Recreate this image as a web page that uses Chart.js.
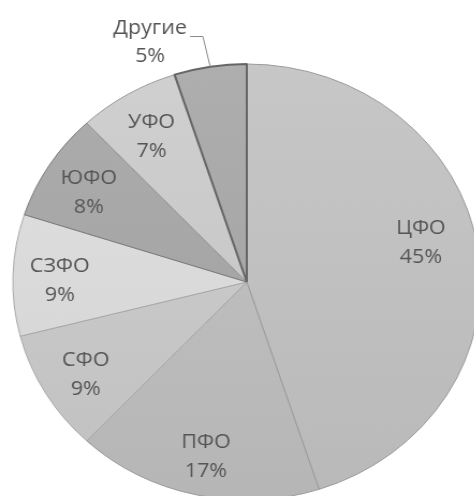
<!DOCTYPE html>
<html>
<head>
<meta charset="utf-8">
<script src="https://cdn.jsdelivr.net/npm/chart.js@4"></script>
<style>
  html, body { margin: 0; padding: 0; background: #fff; overflow: hidden; width: 474px; height: 496px; }
  #wrap { position: absolute; left: 0; top: 0; transform: scaleX(1.073); transform-origin: 0 0; }
</style>
</head>
<body>
<div id="wrap"><canvas id="pieCanvas" width="460" height="520"></canvas></div>
<script>
// === Data ===
const regions = ['ЦФО', 'ПФО', 'СФО', 'СЗФО', 'ЮФО', 'УФО', 'Другие'];
const shares = [45, 17, 9, 9, 8, 7, 5];
const sliceColors = ['#c0c0c0', '#bdbdbd', '#c8c8c8', '#dadada', '#a6a6a6', '#c9c9c9', '#a7a7a7'];
const edgeColors = ['#9a9a9a', '#9a9a9a', '#a8a8a8', '#a8a8a8', '#7a7a7a', '#9a9a9a', '#666666'];

// === Helpers ===
const shade = (hex, amt) => {
  const n = parseInt(hex.slice(1), 16);
  const c = v => Math.max(0, Math.min(255, v + amt));
  return `rgb(${c(n >> 16)},${c((n >> 8) & 255)},${c(n & 255)})`;
};

// vertical gradient like the office chart fill
const sliceFill = c => {
  const base = sliceColors[c.dataIndex];
  const area = c.chart.chartArea;
  if (!area) return base;
  const g = c.chart.ctx.createLinearGradient(0, area.top, 0, area.bottom);
  g.addColorStop(0, shade(base, 7));
  g.addColorStop(1, shade(base, -7));
  return g;
};

// === Labels: name + percent inside each slice, leader line for the last one ===
const sliceLabels = {
  id: 'sliceLabels',
  afterDatasetsDraw(chart, args, opts) {
    const ctx = chart.ctx;
    const arcs = chart.getDatasetMeta(0).data;
    ctx.save();
    ctx.font = '20px "Open Sans"';
    ctx.fillStyle = '#555555';
    ctx.textAlign = 'center';
    ctx.textBaseline = 'middle';
    arcs.forEach((arc, i) => {
      const mid = (arc.startAngle + arc.endAngle) / 2;
      const r = arc.outerRadius;
      const pct = shares[i] + '%';
      if (i < arcs.length - 1) {
        const nudge = (opts.nudge && opts.nudge[i]) || [0, 0];
        const x = arc.x + Math.cos(mid) * r * 0.8 + nudge[0];
        const y = arc.y + Math.sin(mid) * r * 0.8 + nudge[1];
        ctx.fillText(regions[i], x, y - 10);
        ctx.fillText(pct, x, y + 19);
      } else {
        const ex = arc.x + Math.cos(mid) * r;
        const ey = arc.y + Math.sin(mid) * r;
        const kx = arc.x + Math.cos(mid) * r * 1.14 - 2;
        const ky = arc.y + Math.sin(mid) * r * 1.14;
        ctx.strokeStyle = '#8a8a8a';
        ctx.lineWidth = 1;
        ctx.beginPath();
        ctx.moveTo(ex, ey);
        ctx.lineTo(kx, ky);
        ctx.lineTo(kx - 12, ky);
        ctx.stroke();
        const tx = kx - 15;
        ctx.textAlign = 'right';
        ctx.fillText(regions[i], tx, ky - 8);
        const w = ctx.measureText(regions[i]).width;
        ctx.textAlign = 'center';
        ctx.fillText(pct, tx - w / 2, ky + 20);
      }
    });
    ctx.restore();
  }
};

// === Chart ===
new Chart(document.getElementById('pieCanvas'), {
  type: 'pie',
  data: {
    labels: regions,
    datasets: [{
      data: shares,
      backgroundColor: sliceFill,
      borderColor: edgeColors,
      borderWidth: [1, 1, 1, 1, 1, 1, 2]
    }]
  },
  options: {
    responsive: false,
    animation: false,
    layout: { padding: { top: 63, bottom: 19, left: 11, right: 11 } },
    plugins: {
      legend: { display: false },
      tooltip: { enabled: false },
      sliceLabels: { nudge: { 0: [-10, -16] } }
    }
  },
  plugins: [sliceLabels]
});
</script>
</body>
</html>
